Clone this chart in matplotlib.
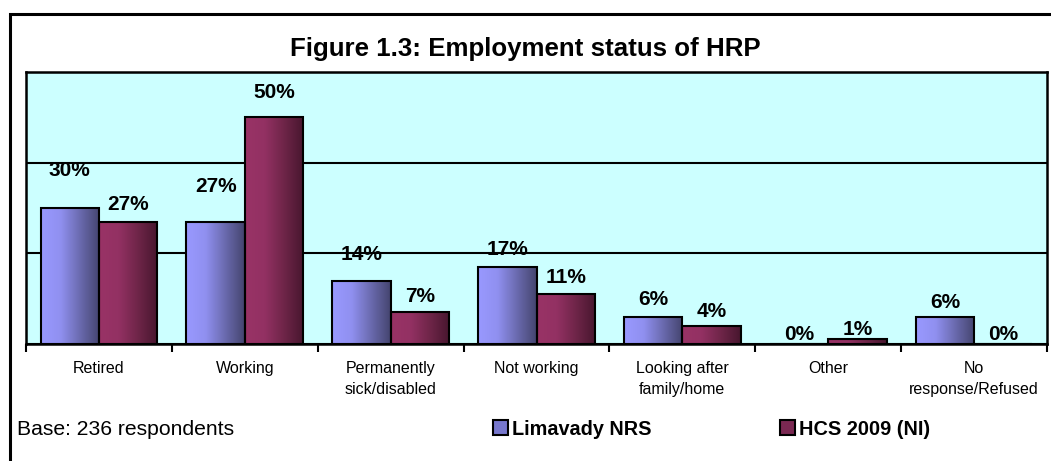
import numpy as np
import matplotlib
matplotlib.use("Agg")
import matplotlib.pyplot as plt
from matplotlib.patches import Patch, Rectangle
from matplotlib.colors import LinearSegmentedColormap

plt.rcParams['font.family'] = ['Liberation Sans', 'DejaVu Sans']

categories = ['Retired', 'Working', 'Permanently\nsick/disabled', 'Not working',
              'Looking after\nfamily/home', 'Other', 'No\nresponse/Refused']
limavady = [30, 27, 14, 17, 6, 0, 6]
hcs_ni = [27, 50, 7, 11, 4, 1, 0]
series_names = ['Limavady NRS', 'HCS 2009 (NI)']

# label lift above bar top, in pixels (Excel placed them unevenly)
lift_blue = [38, 35, 26, 17, 17, 10, 14]
lift_red = [17, 25, 16, 17, 14, 10, 9]

blue_cmap = LinearSegmentedColormap.from_list('b', ['#9999ff', '#9090f0', '#6a6aae', '#44446e'])
red_cmap = LinearSegmentedColormap.from_list('r', ['#993366', '#933163', '#6e2548', '#47162e'])

W, H = 1051, 461
fig = plt.figure(figsize=(W / 100, H / 100), dpi=100)
ax = fig.add_axes([26 / W, 1 - 344 / H, (1047 - 26) / W, (344 - 72) / H])
ax.set_facecolor('#ccffff')

x = np.arange(len(categories))
bw = 0.4
grad = np.linspace(0, 1, 256).reshape(1, -1)


def gradient_bars(xpos, vals, cmap):
    bars = ax.bar(xpos, vals, bw, color='none', edgecolor='black', linewidth=1.5, zorder=3)
    for b in bars:
        bx, by = b.get_x(), b.get_y()
        im = ax.imshow(grad, cmap=cmap, aspect='auto', zorder=2.5,
                       extent=[bx, bx + b.get_width(), by, by + b.get_height()])
        im.set_clip_path(b)
    return bars


bars_b = gradient_bars(x - bw / 2, limavady, blue_cmap)
bars_r = gradient_bars(x + bw / 2, hcs_ni, red_cmap)

for bars, vals, lifts in [(bars_b, limavady, lift_blue), (bars_r, hcs_ni, lift_red)]:
    for b, v, lf in zip(bars, vals, lifts):
        ax.annotate(f'{v}%', (b.get_x() + b.get_width() / 2, v), xytext=(0, lf),
                    textcoords='offset pixels', ha='center', va='center',
                    fontsize=15, fontweight='bold', zorder=0.3)

ax.set_xlim(-0.5, len(categories) - 0.5)
ax.set_ylim(0, 60)
ax.set_yticks([0, 20, 40, 60])
ax.tick_params(axis='y', length=0, labelleft=False)
ax.yaxis.grid(True, color='black', linewidth=1.5)
ax.set_axisbelow(True)

ax.set_xticks(np.arange(len(categories) + 1) - 0.5)
ax.set_xticklabels([])
ax.tick_params(axis='x', which='major', length=6, width=1.5, direction='out')
ax.set_xticks(x, minor=True)
ax.set_xticklabels(categories, minor=True, fontsize=11.5, linespacing=1.55)
ax.tick_params(axis='x', which='minor', length=0, pad=12)

for s in ax.spines.values():
    s.set_linewidth(1.8)

fig.text(0.5, 1 - 56 / H, 'Figure 1.3: Employment status of HRP', ha='center',
         va='baseline', fontsize=18.6, fontweight='bold')
fig.text(17 / W, 1 - 429 / H, 'Base: 236 respondents', ha='left', va='center', fontsize=15.2)

handles = [Patch(facecolor='#7777cc', edgecolor='black', linewidth=1.5),
           Patch(facecolor='#7a2852', edgecolor='black', linewidth=1.5)]
fig.legend(handles, series_names, loc='center left', bbox_to_anchor=(483 / W, 1 - 429 / H),
           ncol=2, frameon=False, handlelength=0.75, handleheight=0.75, handletextpad=0.2,
           columnspacing=6.5, borderpad=0, prop={'weight': 'bold', 'size': 14.3})

# outer chart border (only left and top visible in the crop)
fig.patches.append(Rectangle((10 / W, -0.2), 1.2, 1 - 14 / H + 0.2, transform=fig.transFigure,
                             fill=False, edgecolor='black', linewidth=2.2))

fig.savefig('out.png', dpi=100)
